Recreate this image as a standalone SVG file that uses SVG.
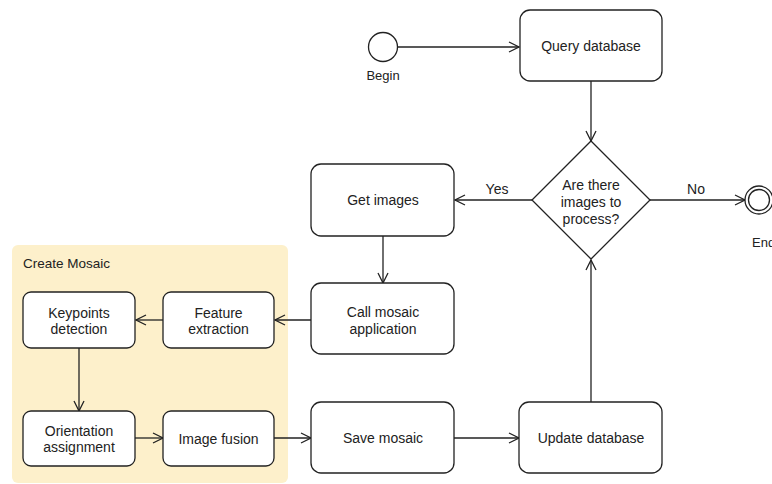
<svg xmlns="http://www.w3.org/2000/svg" width="772" height="484" viewBox="0 0 772 484">
<style>
.n{fill:#fff;stroke:#222;stroke-width:1.3}
.t{font-family:"Liberation Sans",Arial,sans-serif;font-size:14px;fill:#222;text-anchor:middle}
.s{font-size:13px}
.e{fill:none;stroke:#222;stroke-width:1.3}
</style>
<defs>
<marker id="a" viewBox="0 0 12 12" refX="11" refY="6" markerWidth="12" markerHeight="12" markerUnits="userSpaceOnUse" orient="auto">
<path d="M1,1 L11,6 L1,11" fill="none" stroke="#222" stroke-width="1.3"/>
</marker>
</defs>
<g id="group">
<rect x="12" y="245" width="276" height="238" rx="6" fill="#fdf0cb"/>
<text class="t" x="23" y="268" style="text-anchor:start;font-size:13.5px">Create Mosaic</text>
</g>
<g id="edges">
<path class="e" d="M398,47 H519" marker-end="url(#a)"/>
<path class="e" d="M591,81 V141" marker-end="url(#a)"/>
<path class="e" d="M532,200 H455" marker-end="url(#a)"/>
<path class="e" d="M650,200 H745" marker-end="url(#a)"/>
<path class="e" d="M383,236 V283" marker-end="url(#a)"/>
<path class="e" d="M311,320 H275" marker-end="url(#a)"/>
<path class="e" d="M163,320 H136" marker-end="url(#a)"/>
<path class="e" d="M79,348 V411" marker-end="url(#a)"/>
<path class="e" d="M135,438 H163" marker-end="url(#a)"/>
<path class="e" d="M274,438 H311" marker-end="url(#a)"/>
<path class="e" d="M454,438 H519" marker-end="url(#a)"/>
<path class="e" d="M591,402 V260" marker-end="url(#a)"/>
<text class="t" x="497" y="194">Yes</text>
<text class="t" x="696" y="194">No</text>
</g>
<g id="begin"><circle class="n" cx="383" cy="47" r="14.5"/><text class="t s" x="383" y="80">Begin</text></g>
<g id="end"><circle class="n" cx="759" cy="200" r="14"/><circle class="n" cx="759" cy="200" r="10.5"/><text class="t s" x="752" y="247" style="text-anchor:start">End</text></g>
<g id="query"><rect class="n" x="520" y="10" width="142" height="71" rx="10"/><text class="t" x="591" y="51">Query database</text></g>
<g id="decision"><path class="n" d="M591,141 L650,200 L591,259 L532,200 Z"/><text class="t" x="591" y="190">Are there</text><text class="t" x="591" y="207">images to</text><text class="t" x="591" y="224">process?</text></g>
<g id="getimages"><rect class="n" x="311" y="164" width="143" height="72" rx="10"/><text class="t" x="383" y="205">Get images</text></g>
<g id="callmosaic"><rect class="n" x="311" y="283" width="143" height="71" rx="10"/><text class="t" x="383" y="317">Call mosaic</text><text class="t" x="383" y="334">application</text></g>
<g id="savemosaic"><rect class="n" x="311" y="402" width="143" height="71" rx="10"/><text class="t" x="383" y="443">Save mosaic</text></g>
<g id="updatedb"><rect class="n" x="519" y="402" width="143" height="71" rx="10"/><text class="t" x="591" y="443">Update database</text></g>
<g id="keypoints"><rect class="n" x="23" y="292" width="112" height="56" rx="8"/><text class="t" x="79" y="318">Keypoints</text><text class="t" x="79" y="334">detection</text></g>
<g id="feature"><rect class="n" x="163" y="292" width="111" height="56" rx="8"/><text class="t" x="218.5" y="318">Feature</text><text class="t" x="218.5" y="334">extraction</text></g>
<g id="orientation"><rect class="n" x="23" y="411" width="112" height="55" rx="8"/><text class="t" x="79" y="436">Orientation</text><text class="t" x="79" y="452">assignment</text></g>
<g id="fusion"><rect class="n" x="163" y="411" width="111" height="55" rx="8"/><text class="t" x="218.5" y="444">Image fusion</text></g>
</svg>
